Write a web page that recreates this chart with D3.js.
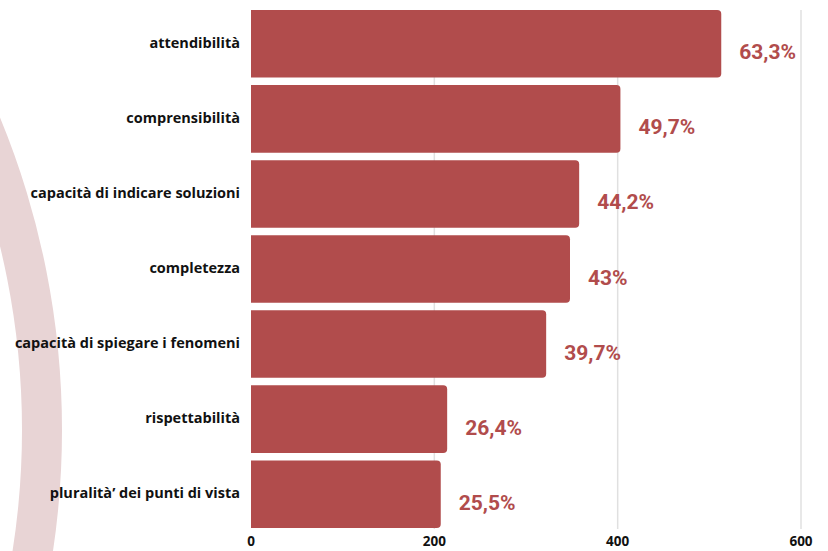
<!DOCTYPE html>
<html>
<head>
<meta charset="utf-8">
<script src="https://cdn.jsdelivr.net/npm/d3@7"></script>
<style>
  body { margin: 0; background: #fff; }
  svg { display: block; }
</style>
</head>
<body>
<svg id="chart" width="828" height="551"></svg>
<script>
// Chart data
const categories = [
    "attendibilità",
    "comprensibilità",
    "capacità di indicare soluzioni",
    "completezza",
    "capacità di spiegare i fenomeni",
    "rispettabilità",
    "pluralità’ dei punti di vista"
];
const counts = [513, 403, 358, 348, 322, 214, 207];
const percentLabels = ["63,3%", "49,7%", "44,2%", "43%", "39,7%", "26,4%", "25,5%"];
const xTicks = [0, 200, 400, 600];

const width = 828;
const height = 551;
const barColor = "#b14c4c";

const svg = d3.select("#chart");

// decorative ring on the left, behind everything
svg.append("path")
    .attr("transform", "translate(-756,430)")
    .attr("d", d3.arc()({
        innerRadius: 778,
        outerRadius: 818,
        startAngle: 0,
        endAngle: Math.PI * 2
    }))
    .style("fill", "#e8d4d5");

const x = d3.scaleLinear()
    .domain([0, 600])
    .range([251, 801]);

const y = d3.scaleBand()
    .domain(categories)
    .range([10, 528])
    .paddingInner(0.1)
    .paddingOuter(0);

// vertical grid lines
svg.append("g")
    .selectAll("line")
    .data(xTicks.filter(d => d > 0))
    .enter()
    .append("line")
    .attr("x1", d => x(d))
    .attr("x2", d => x(d))
    .attr("y1", 10)
    .attr("y2", 529)
    .style("stroke", "#e0e0e0")
    .style("stroke-width", 1.5);

// bars with rounded right corners
function barPath(x0, x1, y0, h, r) {
    return "M" + x0 + "," + y0 +
        "H" + (x1 - r) +
        "Q" + x1 + "," + y0 + " " + x1 + "," + (y0 + r) +
        "V" + (y0 + h - r) +
        "Q" + x1 + "," + (y0 + h) + " " + (x1 - r) + "," + (y0 + h) +
        "H" + x0 + "Z";
}

svg.append("g")
    .selectAll("path")
    .data(categories)
    .enter()
    .append("path")
    .attr("d", (d, i) => barPath(x(0), x(counts[i]), y(d), y.bandwidth(), 4))
    .style("fill", barColor);

// percentage labels
svg.append("g")
    .selectAll("text")
    .data(categories)
    .enter()
    .append("text")
    .attr("x", (d, i) => x(counts[i]) + 18)
    .attr("y", d => y(d) + y.bandwidth() / 2 + 10)
    .attr("dominant-baseline", "middle")
    .style("font-family", "Roboto, sans-serif")
    .style("font-weight", 700)
    .style("font-size", "21px")
    .style("fill", barColor)
    .text((d, i) => percentLabels[i]);

// category labels
svg.append("g")
    .selectAll("text")
    .data(categories)
    .enter()
    .append("text")
    .attr("x", 240)
    .attr("y", d => y(d) + y.bandwidth() / 2)
    .attr("dominant-baseline", "middle")
    .attr("text-anchor", "end")
    .style("font-family", "'Open Sans', sans-serif")
    .style("font-weight", 700)
    .style("font-size", "14.5px")
    .style("fill", "#111")
    .text(d => d);

// x axis tick labels
svg.append("g")
    .selectAll("text")
    .data(xTicks)
    .enter()
    .append("text")
    .attr("x", d => x(d))
    .attr("y", 546)
    .attr("text-anchor", "middle")
    .style("font-family", "'Open Sans', sans-serif")
    .style("font-weight", 700)
    .style("font-size", "13.5px")
    .style("fill", "#111")
    .text(d => d);
</script>
</body>
</html>
